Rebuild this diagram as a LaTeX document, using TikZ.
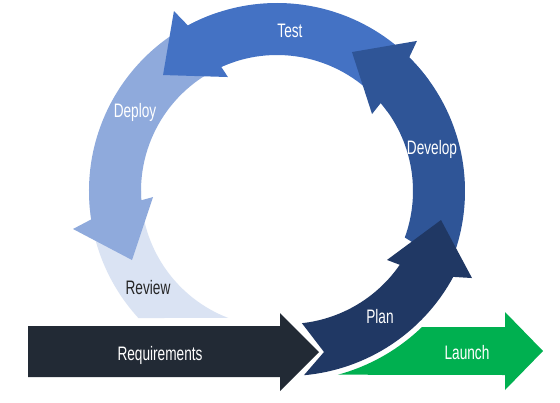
\documentclass[tikz,border=0pt]{standalone}
\usepackage{fontspec}
\usetikzlibrary{calc}
\newfontfamily\agency[FakeStretch=0.7]{Liberation Sans}
\definecolor{reqc}{HTML}{222A35}
\definecolor{planc}{HTML}{203864}
\definecolor{devc}{HTML}{2F5597}
\definecolor{testc}{HTML}{4472C4}
\definecolor{depc}{HTML}{8FAADC}
\definecolor{revc}{HTML}{DAE3F3}
\definecolor{launchc}{HTML}{00B050}
\definecolor{darktext}{HTML}{262626}
\tikzset{
  lbl/.style={font=\agency\fontsize{19.5}{20}\selectfont, text=white, anchor=base, inner sep=0pt},
  lbldark/.style={lbl, text=darktext}
}
\begin{document}
\begin{tikzpicture}[x=1pt,y=1pt]
\useasboundingbox (0,0) rectangle (560,-402);
\fill[white] (0,0) rectangle (560,-402);
\coordinate (C) at (277,-191);
\coordinate (Cp) at (287,-187);
% Review
\fill[revc] ($(C)+(180:188pt)$) arc[start angle=180,end angle=222.5,radius=188pt]
  -- ($(C)+(249:136pt)$) arc[start angle=249,end angle=180,radius=136pt] -- cycle;
% Deploy
\fill[depc] ($(C)+(108:136pt)$) arc[start angle=108,end angle=183.9,radius=136pt]
  -- ($(C)+(182.8:124.1pt)$) -- ($(C)+(205.45:160.6pt)$) -- ($(C)+(190.55:207.5pt)$)
  -- ($(C)+(188.7:188pt)$) arc[start angle=188.7,end angle=108,radius=188pt] -- cycle;
% Test
\fill[testc] ($(C)+(36:136pt)$) arc[start angle=36,end angle=114.2,radius=136pt]
  -- ($(C)+(113.3:124.1pt)$) -- ($(C)+(134.5:162.6pt)$) -- ($(C)+(119.8:207.4pt)$)
  -- ($(C)+(118.3:188pt)$) arc[start angle=118.3,end angle=36,radius=188pt] -- cycle;
% Develop
\fill[devc] ($(C)+(-28:188pt)$) arc[start angle=-28,end angle=45.3,radius=188pt]
  -- ($(C)+(47:205.2pt)$) -- ($(C)+(61.65:157.9pt)$) -- ($(C)+(39:122.3pt)$)
  -- ($(C)+(40.3:136pt)$) arc[start angle=40.3,end angle=-20,radius=136pt]
  -- (425,-250) -- cycle;
% Plan
\fill[planc] ($(Cp)+(-84.86:189pt)$) -- (324,-352) -- ($(Cp)+(-83.75:137pt)$)
  arc[start angle=-83.75,end angle=-34.6,radius=137pt]
  -- ($(Cp)+(-36.1:123.8pt)$) -- ($(Cp)+(-12.1:157.5pt)$) -- ($(Cp)+(-26.2:206.2pt)$)
  -- ($(Cp)+(-28.4:189pt)$) arc[start angle=-28.4,end angle=-84.86,radius=189pt] -- cycle;
% Requirements
\fill[reqc] (28,-326) -- (280,-326) -- (280,-313) -- (319,-352) -- (280,-391)
  -- (280,-377) -- (28,-377) -- cycle;
% Launch
\fill[launchc] ($(Cp)+(-46.04:194.5pt)$) arc[start angle=-46.04,end angle=-74.8,radius=194.5pt]
  -- (505,-375) -- (505,-390) -- (543,-351) -- (505,-312) -- (505,-327) -- cycle;
% labels
\node[lbl] (test) at (290,-37) {Test};
\node[lbl] (deploy) at (135,-117) {Deploy};
\node[lbl] (develop) at (432,-154) {Develop};
\node[lbldark] (review) at (148,-294) {Review};
\node[lbl] (req) at (160,-360) {Requirements};
\node[lbl] (plan) at (380,-323) {Plan};
\node[lbl] (launch) at (467,-359) {Launch};
\end{tikzpicture}
\end{document}
